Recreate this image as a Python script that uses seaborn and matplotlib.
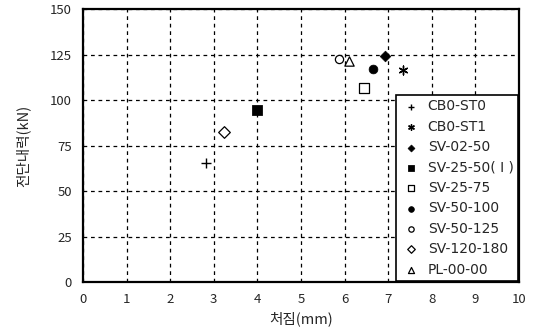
import matplotlib
matplotlib.use("Agg")
from matplotlib import pyplot as plt
import seaborn as sns
import pandas as pd

# specimen names and measured points (deflection mm, shear kN)
specimens = ["CB0-ST0", "CB0-ST1", "SV-02-50", "SV-25-50( I )", "SV-25-75",
             "SV-50-100", "SV-50-125", "SV-120-180", "PL-00-00"]
deflection = [2.82, 7.33, 6.92, 4.0, 6.45, 6.65, 5.87, 3.23, 6.1]
shear = [65.5, 116.5, 124.2, 94.5, 107.0, 117.0, 122.5, 82.5, 121.5]

marker_map = ["+", (6, 2, 0), "D", "s", "s", "o", "o", "D", "^"]
filled = [True, True, True, True, False, True, False, False, False]
sizes = [45, 40, 30, 50, 50, 40, 35, 35, 45]

df = pd.DataFrame({"name": specimens, "x": deflection, "y": shear})

sns.set_style("white")
plt.rcParams["font.family"] = ["Noto Sans CJK KR", "DejaVu Sans"]

fig, ax = plt.subplots(figsize=(5.39, 3.35), dpi=100)
fig.subplots_adjust(left=0.154, right=0.963, top=0.972, bottom=0.158)

for i, row in df.iterrows():
    m = marker_map[i]
    if m == "+" or isinstance(m, tuple):
        kw = dict(color="black", linewidth=1.0)
    elif filled[i]:
        kw = dict(color="black", edgecolor="black")
    else:
        kw = dict(facecolor="white", edgecolor="black", linewidth=0.9)
    sns.scatterplot(x=[row["x"]], y=[row["y"]], marker=m, s=sizes[i],
                    label=row["name"], ax=ax, zorder=3, **kw)

ax.set_xlim(0, 10)
ax.set_ylim(0, 150)
ax.set_xticks(range(0, 11))
ax.set_yticks(range(0, 151, 25))
ax.grid(True, color="black", linestyle=(0, (3, 3)), linewidth=0.9)
ax.tick_params(length=0, labelsize=9.5, pad=8)
for sp in ax.spines.values():
    sp.set_color("black")
    sp.set_linewidth(1.6)

ax.set_xlabel("처짐(mm)", fontsize=10.5, labelpad=4)
ax.set_ylabel("전단내력(kN)", fontsize=10.5, labelpad=14)

leg = ax.legend(loc="lower right", frameon=True, fancybox=False,
                prop={"family": "DejaVu Sans", "size": 10},
                borderaxespad=0.1, handletextpad=0.45, labelspacing=0.46,
                borderpad=0.3, handlelength=1.5, framealpha=1, markerscale=0.65)
leg.get_frame().set_edgecolor("black")
leg.get_frame().set_linewidth(1.2)

plt.savefig("out.png", dpi=100)
